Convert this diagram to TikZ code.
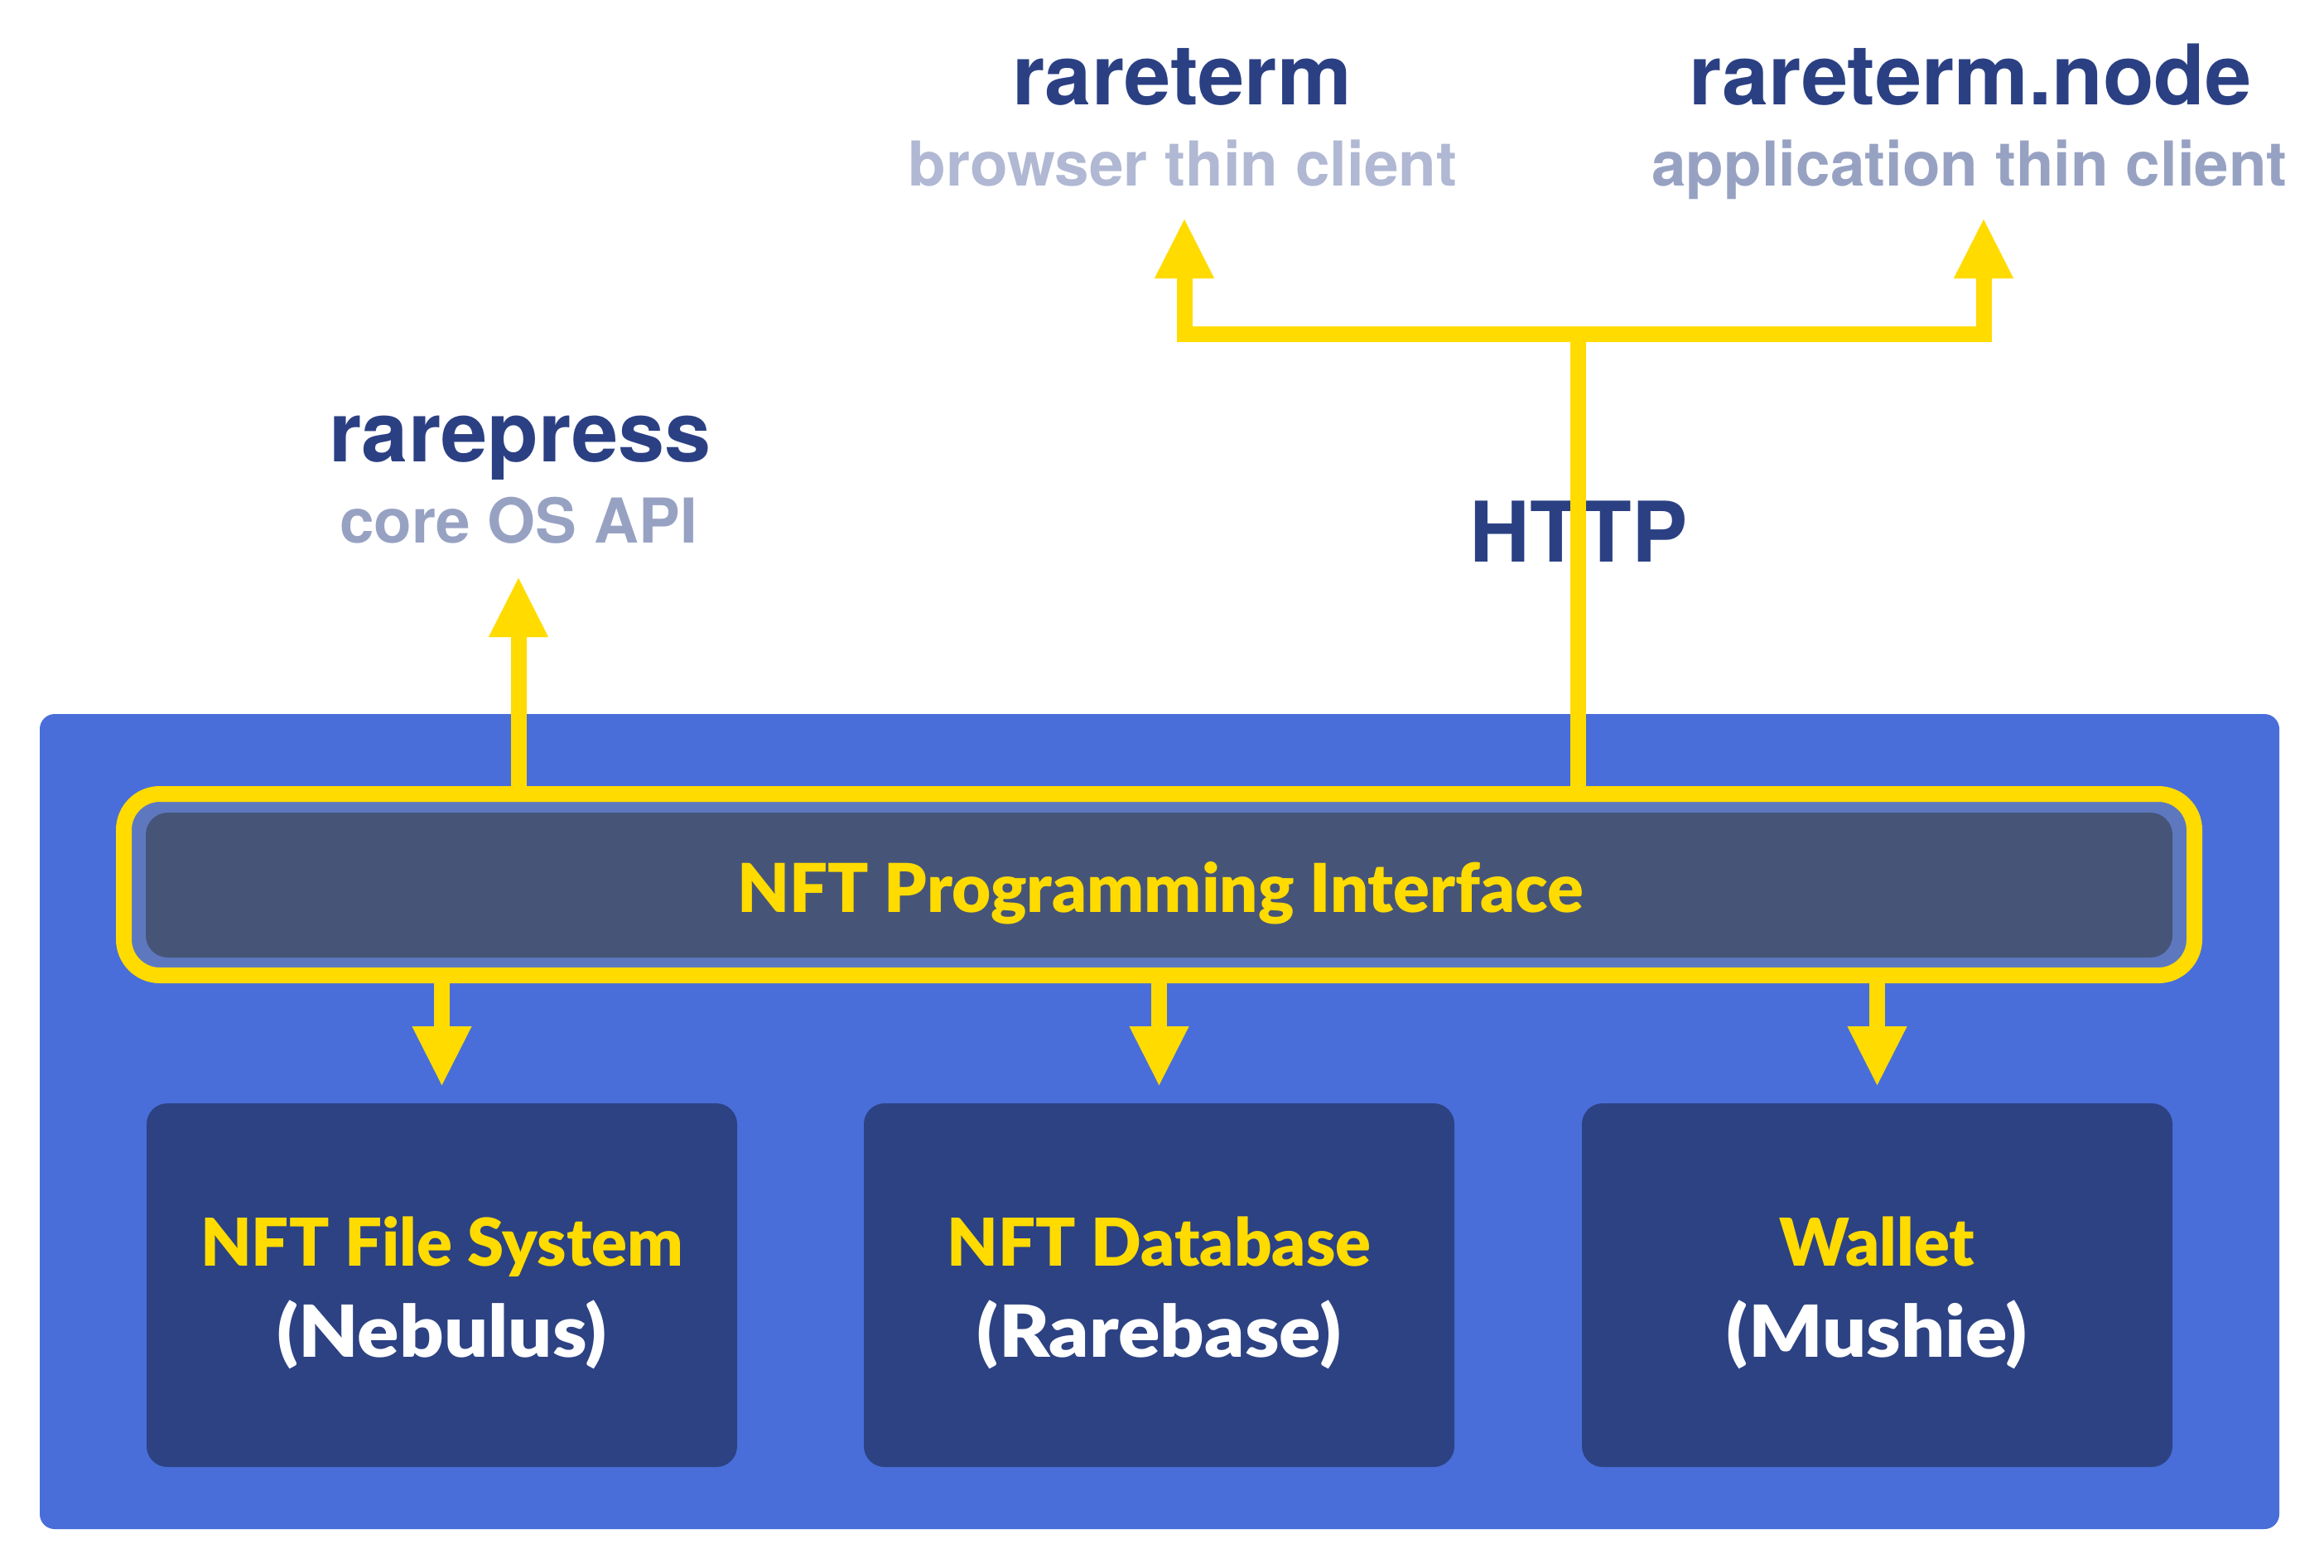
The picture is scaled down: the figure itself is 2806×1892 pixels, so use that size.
\documentclass[tikz,border=0pt]{standalone}
\usepackage{fontspec}
\setmainfont{TeX Gyre Heros}
\newfontfamily\boxfont{Lato}[BoldFont={Lato Black}]
\usetikzlibrary{arrows.meta}
\definecolor{bgblue}{RGB}{73,110,217}
\definecolor{ylw}{RGB}{255,219,0}
\definecolor{navy}{RGB}{43,64,131}
\definecolor{boxdark}{RGB}{44,66,131}
\definecolor{apidark}{RGB}{70,85,119}
\definecolor{apilight}{RGB}{94,120,192}
\definecolor{subA}{RGB}{176,184,211}
\definecolor{subB}{RGB}{151,162,195}
\newcommand{\widetext}[1]{\scalebox{1.08}[1]{#1}}
\tikzset{
  title/.style={anchor=base, inner sep=0pt, text=navy, font=\fontsize{30.3}{36}\selectfont\bfseries},
  subtitle/.style={anchor=base, inner sep=0pt, font=\fontsize{22.4}{27}\selectfont\bfseries},
  boxtext/.style={anchor=base, inner sep=0pt, font=\boxfont\fontsize{23.9}{28}\selectfont\bfseries},
  apitext/.style={anchor=base, inner sep=0pt, font=\boxfont\fontsize{24.4}{28}\selectfont\bfseries},
  subname/.style={anchor=base, inner sep=0pt, text=white, font=\boxfont\fontsize{26}{30}\selectfont\bfseries},
  compbox/.style={fill=boxdark, rounded corners=7.5pt, minimum width=213.9pt, minimum height=131.7pt, inner sep=0pt, outer sep=0pt},
  conn/.style={draw=ylw, line width=5.7pt, line join=miter},
  tipped/.style={-{Triangle[length=21.3pt,width=21.6pt,line width=0.01pt]}},
}
\begin{document}
\begin{tikzpicture}[x=0.3pt,y=-0.3pt]
\useasboundingbox (0,0) rectangle (2806,1892);
% background panel
\node[fill=bgblue, rounded corners=5.4pt, minimum width=811.2pt, minimum height=295.2pt, inner sep=0pt, outer sep=0pt] (bg) at (1400,1354) {};
% API frame
\node[draw=ylw, line width=5.7pt, fill=apilight, rounded corners=13pt, minimum width=750pt, minimum height=65.7pt, inner sep=0pt] (api) at (1399.5,1068) {};
\node[fill=apidark, rounded corners=8pt, minimum width=734.1pt, minimum height=52.5pt, inner sep=0pt] (apiin) at (1399.5,1068.5) {};
\node[apitext, text=ylw] (apitxt) at (1401,1101) {NFT Programming Interface};
% component boxes
\node[compbox] (fs) at (533.5,1551.5) {};
\node[compbox] (db) at (1399.5,1551.5) {};
\node[compbox] (wl) at (2266.5,1551.5) {};
\node[boxtext, text=ylw] (fsA) at (533.5,1528) {NFT File System};
\node[subname] (fsB) at (533.5,1638) {\widetext{(Nebulus)}};
\node[boxtext, text=ylw] (dbA) at (1399.5,1528) {NFT Database};
\node[subname] (dbB) at (1399.5,1638) {\widetext{(Rarebase)}};
\node[boxtext, text=ylw] (wlA) at (2266.5,1528) {Wallet};
\node[subname] (wlB) at (2266.5,1638) {\widetext{(Mushie)}};
% titles
\node[title] (rp) at (628,557) {rarepress};
\node[subtitle, text=subB] (rpsub) at (626,655) {core OS API};
\node[title] (rt) at (1427,126) {rareterm};
\node[subtitle, text=subA] (rtsub) at (1428,224) {browser thin client};
\node[title] (rtn) at (2379,126) {rareterm.node};
\node[subtitle, text=subB] (rtnsub) at (2378,224) {application thin client};
\node[title] (http) at (1906,678) {HTTP};
% connectors
\coordinate (hub) at (1905,403);
\coordinate (rtTip) at (1430,265);
\coordinate (rtnTip) at (2395,265);
\coordinate (rpTip) at (626,698);
\draw[conn, tipped] (api.north -| rpTip) -- (rpTip);
\draw[conn] (api.north -| hub) -- (hub);
\draw[conn, tipped] (hub) -| (rtTip);
\draw[conn, tipped] (hub) -| (rtnTip);
\draw[conn, tipped, shorten >=6.6pt] (api.south -| fs.north) -- (fs.north);
\draw[conn, tipped, shorten >=6.6pt] (api.south -| db.north) -- (db.north);
\draw[conn, tipped, shorten >=6.6pt] (api.south -| wl.north) -- (wl.north);
\end{tikzpicture}
\end{document}
